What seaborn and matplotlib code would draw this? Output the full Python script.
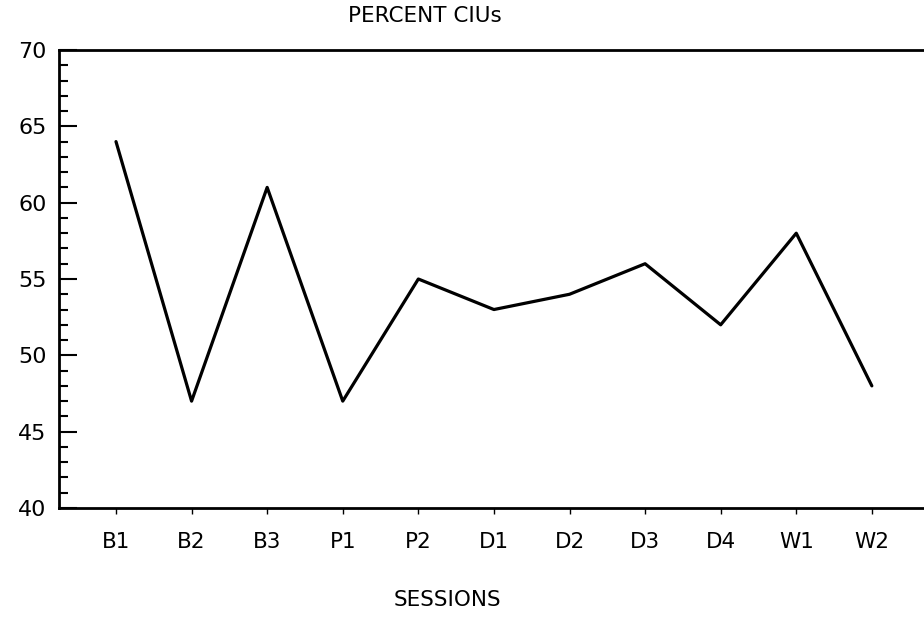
import numpy as np
import pandas as pd
import seaborn as sns
import matplotlib.pyplot as plt
from matplotlib.ticker import MultipleLocator

# Data
sessions = ["B1", "B2", "B3", "P1", "P2", "D1", "D2", "D3", "D4", "W1", "W2"]
percent_cius = [64, 47, 61, 47, 55, 53, 54, 56, 52, 58, 48]

df = pd.DataFrame({"pos": np.arange(len(sessions)), "pct": percent_cius})

sns.set_style("white")
plt.rcParams['font.family'] = ['DejaVu Sans']
plt.rcParams['text.color'] = 'black'
plt.rcParams['xtick.color'] = 'black'
plt.rcParams['ytick.color'] = 'black'

fig = plt.figure(figsize=(9.24, 6.24), dpi=100)
ax = fig.add_axes([59 / 924, 1 - 508 / 624, 1 - 59 / 924, (508 - 50) / 624])

sns.lineplot(data=df, x="pos", y="pct", ax=ax, color="black", linewidth=2.3)

ax.set_xlim(-0.754, 10.69)
ax.set_ylim(40, 70)
ax.set_xticks(df["pos"])
ax.set_xticklabels(sessions)
ax.yaxis.set_major_locator(MultipleLocator(5))
ax.yaxis.set_minor_locator(MultipleLocator(1))

ax.tick_params(axis="y", which="major", direction="in", length=13, width=1.5,
               labelsize=16, pad=9, left=True)
ax.tick_params(axis="y", which="minor", direction="in", length=6.5, width=1.5, left=True)
ax.tick_params(axis="x", direction="out", length=4, width=1, labelsize=15.5,
               pad=13, bottom=True)

for side in ["left", "bottom", "top"]:
    ax.spines[side].set_visible(True)
    ax.spines[side].set_color("black")
    ax.spines[side].set_linewidth(2)
ax.spines["right"].set_visible(False)

ax.set_xlabel("")
ax.set_ylabel("")
ax.grid(False)

fig.text(425 / 924, 1 - 16 / 624, "PERCENT CIUs", ha="center", va="center", fontsize=15.5)
fig.text(447 / 924, 1 - 600 / 624, "SESSIONS", ha="center", va="center", fontsize=15.5)

fig.savefig("out.png", dpi=100)
